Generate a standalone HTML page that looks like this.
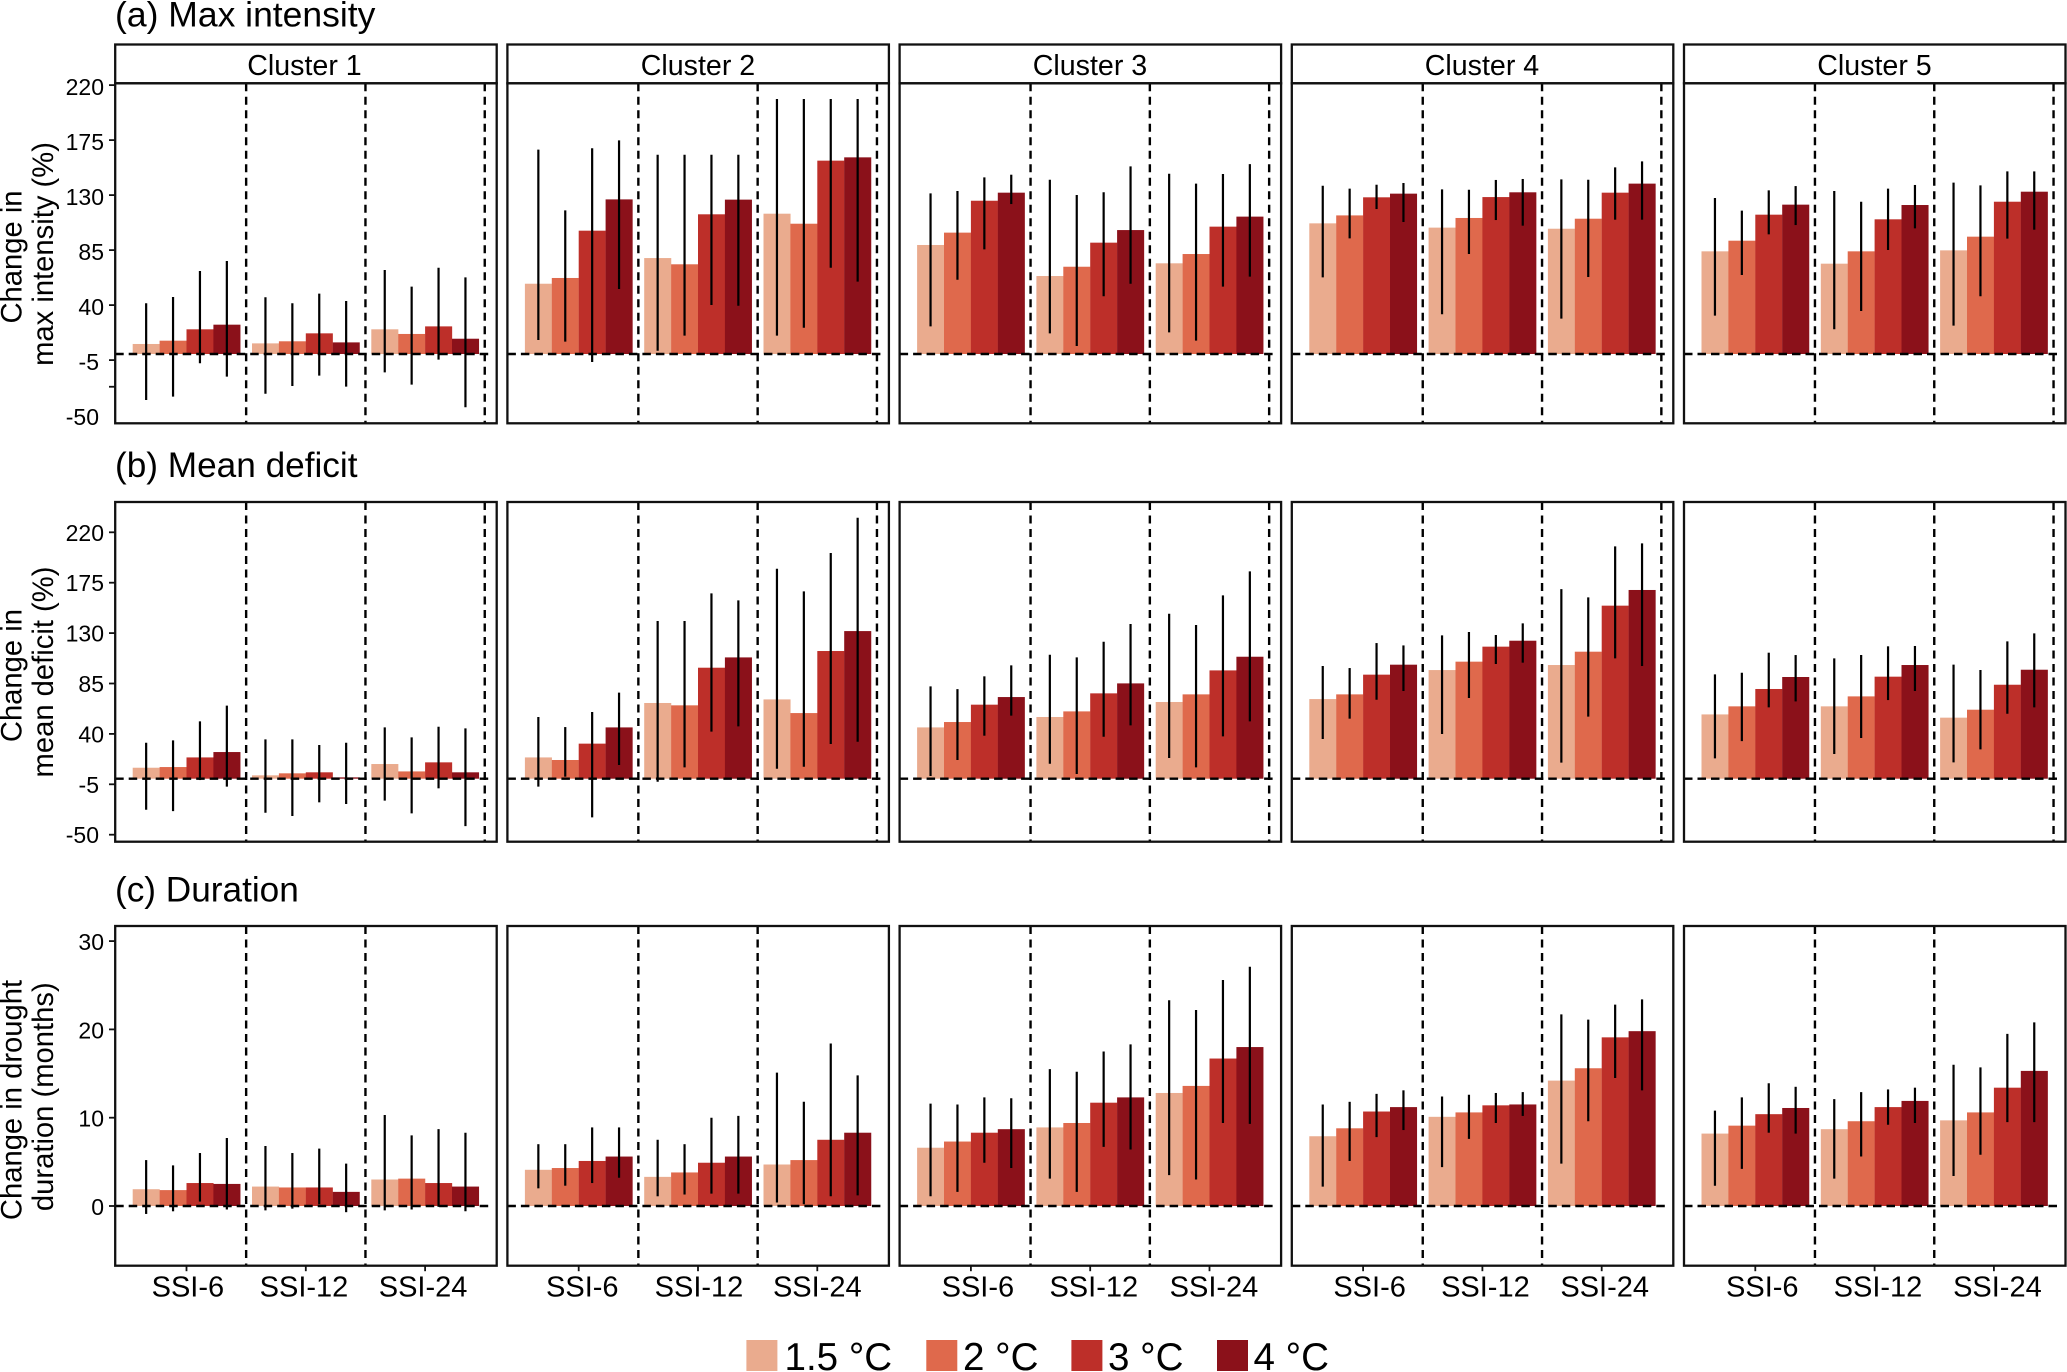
<!DOCTYPE html>
<html lang="en">
<head>
<meta charset="utf-8">
<title>Projected changes in drought characteristics by cluster</title>
<style>
html,body{margin:0;padding:0;background:#fff;}
svg{display:block;font-family:"Liberation Sans",Arial,sans-serif;fill:#000;}
</style>
</head>
<body>
<svg id="chart" xmlns="http://www.w3.org/2000/svg" width="2067" height="1372" viewBox="0 0 2067 1372">
  <rect x="0" y="0" width="2067" height="1372" fill="#fff"/>

  <text x="115" y="26.5" font-size="35.5">(a) Max intensity</text>
  <text x="115" y="477" font-size="35.2">(b) Mean deficit</text>
  <text x="115" y="901.5" font-size="35.2">(c) Duration</text>

  <g fill="none" stroke="#111" stroke-width="2.3">
    <rect x="115.2" y="44.5" width="381.5" height="38.8"/>
    <rect x="507.4" y="44.5" width="381.5" height="38.8"/>
    <rect x="899.6" y="44.5" width="381.5" height="38.8"/>
    <rect x="1291.8" y="44.5" width="381.5" height="38.8"/>
    <rect x="1684" y="44.5" width="381.5" height="38.8"/>
  </g>
  <g font-size="28.6" text-anchor="middle">
    <text x="304.5" y="75">Cluster 1</text>
    <text x="698" y="75">Cluster 2</text>
    <text x="1090" y="75">Cluster 3</text>
    <text x="1482" y="75">Cluster 4</text>
    <text x="1874.5" y="75">Cluster 5</text>
  </g>

  <g font-size="29.2" text-anchor="middle">
    <text transform="translate(21.5,257) rotate(-90)">Change in</text>
    <text transform="translate(53,254) rotate(-90)">max intensity (%)</text>
    <text transform="translate(21.5,675.6) rotate(-90)">Change in</text>
    <text transform="translate(53,672) rotate(-90)">mean deficit (%)</text>
    <text transform="translate(21.5,1100) rotate(-90)">Change in drought</text>
    <text transform="translate(53,1096.7) rotate(-90)">duration (months)</text>
  </g>

  <g id="plots"></g>

  <g font-size="38.6">
    <g>
      <rect x="746.4" y="1340" width="31" height="31" fill="#EAAB8E"/>
      <text x="784.5" y="1370">1.5 °C</text>
    </g>
    <g>
      <rect x="926.3" y="1340" width="31" height="31" fill="#DF694C"/>
      <text x="963" y="1370">2 °C</text>
    </g>
    <g>
      <rect x="1071.4" y="1340" width="31" height="31" fill="#BD2F29"/>
      <text x="1108" y="1370">3 °C</text>
    </g>
    <g>
      <rect x="1217" y="1340" width="31" height="31" fill="#8B111A"/>
      <text x="1253.5" y="1370">4 °C</text>
    </g>
  </g>
</svg>

<script>
const warmingLevels = ['1.5C', '2C', '3C', '4C'];
const indexLabels = ['SSI-6', 'SSI-12', 'SSI-24'];
const clusterNames = ['cluster-1', 'cluster-2', 'cluster-3', 'cluster-4', 'cluster-5'];

const intensityTicks = [220, 175, 130, 85, 40, -5];
const intensityMinorTicks = [-26.8];
const intensityLabels = ['220', '175', '130', '85', '40', '-5', '-50'];
const intensityLabelValues = [220, 175, 130, 85, 40, -5, -50];

const deficitTicks = [220, 175, 130, 85, 40, -5, -50];
const deficitLabels = ['220', '175', '130', '85', '40', '-5', '-50'];

const durationTicks = [30, 20, 10, 0];
const durationLabels = ['30', '20', '10', '0'];

const intensityMean = [
  [[8.2,10.9,20.2,24],[8.7,10.4,16.9,9.5],[20.2,16.4,22.6,12.5]],
  [[57.5,62.2,100.9,126.5],[78.5,73.4,114.3,126.3],[114.8,106.6,158.2,160.9]],
  [[89.2,99.3,125.4,132],[63.8,71.4,91.1,101.4],[74.2,81.8,104.2,112.4]],
  [[106.9,113.4,128.2,131.2],[103.4,111.3,128.4,132.3],[102.5,110.7,132,139.4]],
  [[84,92.7,114,122.2],[73.9,84,110.2,121.9],[84.8,96,124.6,132.8]]
];
const intensityLow = [
  [[-37.6,-34.9,-7.6,-18.5],[-32.5,-26.2,-17.7,-26.7],[-15,-25.1,-4.6,-43.6]],
  [[11.5,10.1,-6.5,53.2],[2.7,15,40.1,39.5],[15,21.5,70.6,59.2]],
  [[22.6,60.8,85.6,122.7],[16.9,6.5,47.2,57.5],[17.7,10.9,55.1,63.3]],
  [[62.7,94.6,118.6,108],[32.5,81.8,109.6,105],[28.9,63,109.9,109.9]],
  [[31.4,64.6,97.9,105.5],[20.2,35.2,85.1,102.8],[23.2,47.2,94.4,101.7]]
];
const intensityHigh = [
  [[41.5,46.6,67.9,76.1],[46.4,41.5,49.4,43.4],[68.7,55.1,70.6,62.7]],
  [[167.2,117.5,168.3,174.8],[163,163,163,163],[208.6,208.6,208.6,208.6]],
  [[131.4,133.4,144.5,146.7],[142.6,130.1,132.3,153.5],[147.5,139.4,147.3,155.4]],
  [[137.7,135.3,138.5,139.9],[134.7,134.4,142.4,143.2],[142.9,142.6,152.7,157.6]],
  [[127.6,117.3,133.9,137.4],[133.4,124.6,135.3,138.3],[140.2,138,149.4,149.4]]
];

const deficitMean = [
  [[9.8,10.4,19,23.8],[3,4.8,5.7,1.2],[13.1,6.5,14.6,5.7]],
  [[19,16.7,31.3,45.8],[67.6,65.5,99.1,108.3],[70.8,58.6,114,131.8]],
  [[45.8,50.6,66.1,72.9],[55.1,60.1,76.2,85.1],[68.5,75.3,96.7,108.9]],
  [[71.1,75.3,92.9,101.8],[97,104.5,117.9,123.2],[101.5,113.4,154.5,168.5]],
  [[57.4,64.6,80.1,90.8],[64.6,73.5,91.1,101.5],[54.5,61.6,83.9,97.3]]
];
const deficitLow = [
  [[-27.7,-28.9,-1.2,-7.1],[-30.4,-33.3,-21.1,-22.6],[-19.6,-31,-8.6,-42.3]],
  [[-7.1,1.8,-34.5,12.2],[-2.7,10.1,42,46.7],[8.9,10.7,31,33]],
  [[2.4,16.7,38.4,56.3],[13.4,4.2,37.5,47.6],[18.5,10.1,37.8,51.2]],
  [[35.4,53.6,70.5,78.3],[39.9,72,102.4,103.6],[14.3,55.4,107.4,100.6]],
  [[18.2,33.6,63.7,69],[22,36.3,70.2,78.3],[14.6,26.2,58,63.7]]
];
const deficitHigh = [
  [[32.1,34.2,51.2,65.2],[35.1,35.1,30.1,32.1],[45.8,36.9,46.4,44.9]],
  [[55.1,46.1,59.5,76.8],[140.8,140.8,165.5,159.2],[187.5,167.3,201.5,233]],
  [[82.4,80,91.4,101.2],[110.7,108.3,122.3,138.1],[147.3,137.2,163.7,185.1]],
  [[100.6,98.8,121.1,119],[128,131,128.3,138.7],[169.3,161.9,207.4,210.1]],
  [[93.2,94.6,112.5,110.4],[107.4,110.4,118.2,118.5],[101.8,97,122.6,129.8]]
];

const durationMean = [
  [[1.9,1.8,2.6,2.5],[2.2,2.1,2.1,1.6],[3,3.1,2.6,2.2]],
  [[4.1,4.3,5.1,5.6],[3.3,3.8,4.9,5.6],[4.7,5.2,7.5,8.3]],
  [[6.6,7.3,8.3,8.7],[8.9,9.4,11.7,12.3],[12.8,13.6,16.7,18]],
  [[7.9,8.8,10.7,11.2],[10.1,10.6,11.4,11.5],[14.2,15.6,19.1,19.8]],
  [[8.2,9.1,10.4,11.1],[8.7,9.6,11.2,11.9],[9.7,10.6,13.4,15.3]]
];
const durationLow = [
  [[-0.9,-0.6,0.5,-0.4],[-0.5,-0.3,0.2,-0.7],[-0.5,-0.4,-0.1,-0.6]],
  [[2,2.3,2.6,3.2],[1.1,1.3,1.4,1.4],[0.4,0.2,1.1,1.2]],
  [[1.1,1.6,4.9,4.3],[3.1,1.6,6.7,6.4],[3.5,3,9.4,9.3]],
  [[2.2,5.1,7.8,8.6],[4.4,7.6,9.4,10.2],[4.8,9.6,14.5,13.1]],
  [[2.3,4.2,8.3,8.2],[3.1,5.6,9.2,9.4],[3.4,5.8,9.5,9.5]]
];
const durationHigh = [
  [[5.2,4.6,6,7.7],[6.8,6,6.5,4.8],[10.3,8,8.7,8.3]],
  [[7,7,8.9,8.9],[7.5,7,10,10.2],[15.1,11.8,18.4,14.8]],
  [[11.6,11.5,12.3,12.2],[15.5,15.2,17.5,18.3],[23.3,22.2,25.6,27.1]],
  [[11.5,11.8,12.7,13.1],[12.4,12.6,12.8,12.9],[21.7,21.1,22.8,23.4]],
  [[10.8,12.3,13.9,13.5],[12.1,12.9,13.2,13.4],[16,15.7,19.5,20.8]]
];

const xLabelNudge = [
  [1.4, -1.8, -2],
  [3.6, 1, 0],
  [7, 3.6, 4.5],
  [6.5, 3, 3],
  [7, 3.4, 3.5]
];

const barColors = ['#EAAB8E', '#DF694C', '#BD2F29', '#8B111A'];
const ink = '#111';

const rows = [
  { key: 'intensity', top: 83.3, bottom: 423.3, zero: 354, unit: 1.2222, labelDy: 10, separators: 3,
    mean: intensityMean, low: intensityLow, high: intensityHigh,
    ticks: intensityTicks.concat(intensityMinorTicks), labels: intensityLabels, labelValues: intensityLabelValues },
  { key: 'deficit', top: 502, bottom: 841.7, zero: 778.7, unit: 1.12, labelDy: 8.5, separators: 3,
    mean: deficitMean, low: deficitLow, high: deficitHigh,
    ticks: deficitTicks, labels: deficitLabels, labelValues: deficitTicks },
  { key: 'duration', top: 926, bottom: 1265.7, zero: 1206, unit: 8.83, labelDy: 9, separators: 2,
    mean: durationMean, low: durationLow, high: durationHigh,
    ticks: durationTicks, labels: durationLabels, labelValues: durationTicks }
];

const panelWidth = 381.5;
const panelPitch = 392.2;
const panelStart = 115.2;
const groupStart = 71.3;
const groupStep = 119.3;
const barWidth = 26.9;

const NS = 'http://www.w3.org/2000/svg';
const root = document.getElementById('plots');

function make(tag, attrs, parent) {
  const node = document.createElementNS(NS, tag);
  for (const k in attrs) node.setAttribute(k, attrs[k]);
  parent.appendChild(node);
  return node;
}
function panelX(c) { return panelStart + c * panelPitch; }
function groupX(c, g) { return panelX(c) + groupStart + g * groupStep; }
function barX(c, g, b) { return groupX(c, g) - 2 * barWidth + b * barWidth; }
function yScale(row, v) { return row.zero - v * row.unit; }

rows.forEach(function (row) {
  const rowGroup = make('g', {}, root);
  
  

  row.labelValues.forEach(function (v, i) {
    const label = make('text', {
      x: v < 0 ? 99 : 104, y: yScale(row, v) + row.labelDy,
      'font-size': 23, 'text-anchor': 'end'
    }, rowGroup);
    label.textContent = row.labels[i];
    
    
  });

  row.ticks.forEach(function (v) {
    const y = yScale(row, v);
    const tick = make('line', { x1: 109, x2: 115.2, y1: y, y2: y, stroke: ink, 'stroke-width': 1.8 }, rowGroup);
    
    
  });

  clusterNames.forEach(function (cluster, c) {
    const panel = make('g', {}, rowGroup);
    
    

    indexLabels.forEach(function (indexName, g) {
      warmingLevels.forEach(function (level, b) {
        const value = row.mean[c][g][b];
        const y0 = yScale(row, 0);
        const y1 = yScale(row, value);
        const bar = make('rect', {
          x: barX(c, g, b), width: barWidth + 0.15,
          y: Math.min(y0, y1), height: Math.abs(y0 - y1),
          fill: barColors[b]
        }, panel);
        
        
      });
    });

    indexLabels.forEach(function (indexName, g) {
      warmingLevels.forEach(function (level, b) {
        const cx = barX(c, g, b) + barWidth / 2;
        const err = make('line', {
          x1: cx, x2: cx,
          y1: yScale(row, row.low[c][g][b]), y2: yScale(row, row.high[c][g][b]),
          stroke: '#000', 'stroke-width': 2.2
        }, panel);
        
        
      });
    });

    indexLabels.slice(0, row.separators).forEach(function (indexName, g) {
      const sx = groupX(c, g) + groupStep / 2;
      const sep = make('line', {
        x1: sx, x2: sx, y1: row.top, y2: row.bottom,
        stroke: '#000', 'stroke-width': 2.4, 'stroke-dasharray': '8 5.5'
      }, panel);
      
      
    });

    const zeroLine = make('line', {
      x1: panelX(c), x2: panelX(c) + 375,
      y1: yScale(row, 0), y2: yScale(row, 0),
      stroke: '#000', 'stroke-width': 2.4, 'stroke-dasharray': '8.5 5'
    }, panel);
    
    

    const frame = make('rect', {
      x: panelX(c), y: row.top, width: panelWidth, height: row.bottom - row.top,
      fill: 'none', stroke: ink, 'stroke-width': 2.3
    }, panel);
    
    

    if (row.key === 'duration') {
      indexLabels.forEach(function (indexName, g) {
        const gx = groupX(c, g);
        const xTick = make('line', {
          x1: gx, x2: gx, y1: row.bottom, y2: row.bottom + 5.5,
          stroke: ink, 'stroke-width': 1.8
        }, panel);
        
        

        const xLabel = make('text', {
          x: gx + xLabelNudge[c][g], y: 1296.7,
          'font-size': 29, 'text-anchor': 'middle'
        }, panel);
        xLabel.textContent = indexName;
        
        
      });
    }
  });
});
</script>
</body>
</html>
